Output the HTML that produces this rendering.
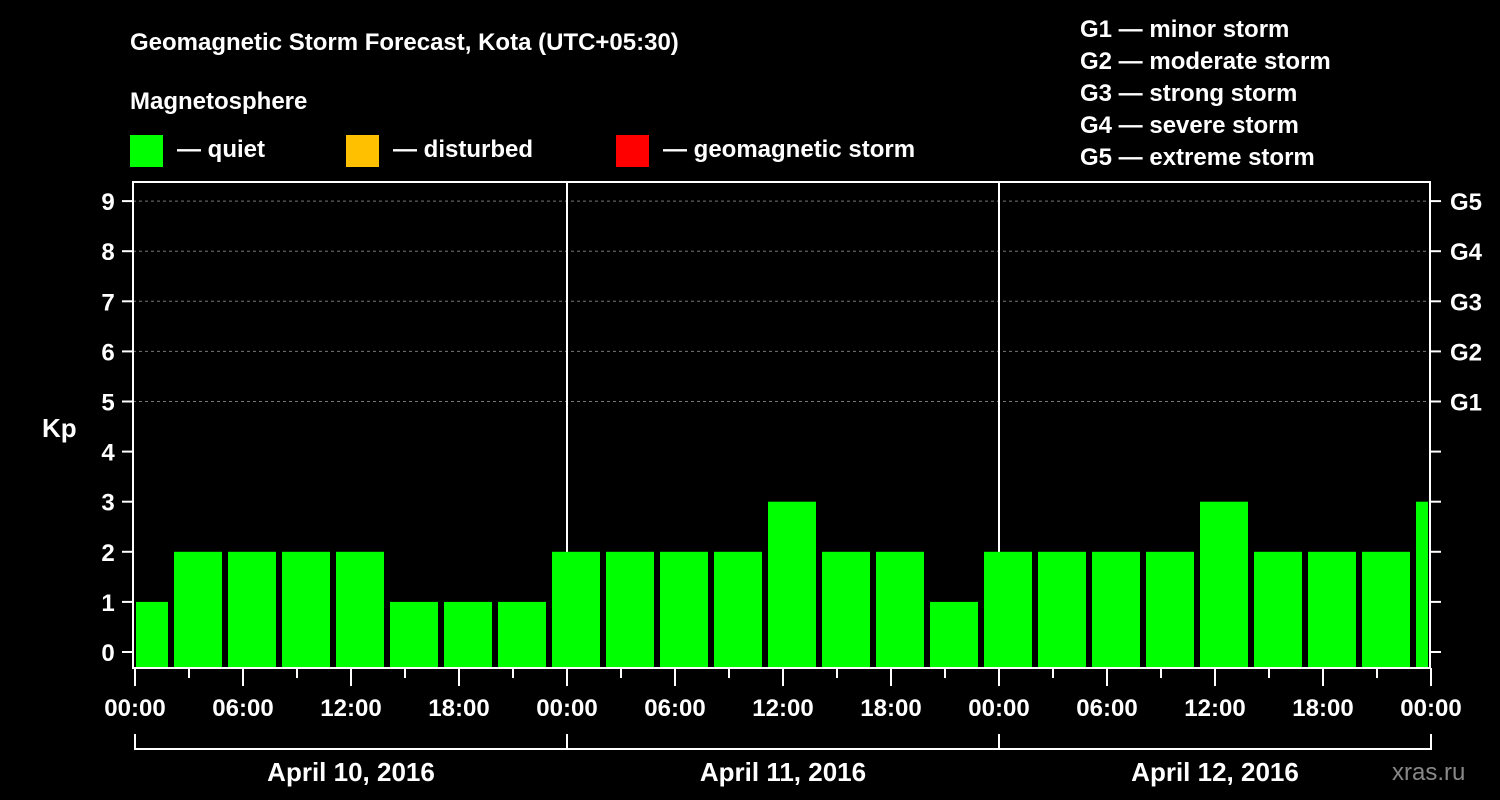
<!DOCTYPE html>
<html><head><meta charset="utf-8"><style>
body{margin:0;background:#000;}
svg{display:block;font-family:"Liberation Sans",Arial,sans-serif;font-weight:bold;}
</style></head><body>
<svg id="chart" width="1500" height="800" viewBox="0 0 1500 800">
<rect width="1500" height="800" fill="#000"/>
<text x="130" y="50" fill="#fff" font-size="24">Geomagnetic Storm Forecast, Kota (UTC+05:30)</text>
<text x="130" y="109" fill="#fff" font-size="24">Magnetosphere</text>
<g><rect x="130" y="135" width="33" height="32" fill="#00ff00"/><text x="177" y="157" fill="#fff" font-size="24">— quiet</text></g>
<g><rect x="346" y="135" width="33" height="32" fill="#ffc000"/><text x="393" y="157" fill="#fff" font-size="24">— disturbed</text></g>
<g><rect x="616" y="135" width="33" height="32" fill="#ff0000"/><text x="663" y="157" fill="#fff" font-size="24">— geomagnetic storm</text></g>
<g fill="#fff" font-size="24">
<text x="1080" y="37">G1 — minor storm</text>
<text x="1080" y="69">G2 — moderate storm</text>
<text x="1080" y="101">G3 — strong storm</text>
<text x="1080" y="133">G4 — severe storm</text>
<text x="1080" y="165">G5 — extreme storm</text>
</g>
<text x="42" y="437" fill="#fff" font-size="26">Kp</text>
<g id="grid"></g><g id="bars"></g><g id="axes"></g>
<text x="1392" y="780" fill="#888" font-size="24" font-weight="normal">xras.ru</text>
</svg>
<script>
const kpValues=[1,2,2,2,2,1,1,1,2,2,2,2,3,2,2,1,2,2,2,2,3,2,2,2,3];
const yTicks=[0,1,2,3,4,5,6,7,8,9];
const gLabels=["G1","G2","G3","G4","G5"];
const xTickLabels=["00:00","06:00","12:00","18:00","00:00","06:00","12:00","18:00","00:00","06:00","12:00","18:00","00:00"];
const dayLabels=["April 10, 2016","April 11, 2016","April 12, 2016"];
const NS="http://www.w3.org/2000/svg";
const L=133,R=1430,T=182,B=668;
const y=v=>652-v*50.1;
const x=h=>135+h*18; // hours since start
function mk(t,a,p){const e=document.createElementNS(NS,t);for(const k in a)e.setAttribute(k,a[k]);p.appendChild(e);return e;}
const grid=document.getElementById('grid'),bars=document.getElementById('bars'),axes=document.getElementById('axes');
yTicks.forEach(v=>{
  if(v>=5){const g=mk('line',{x1:L,x2:R,y1:y(v),y2:y(v),stroke:'#777','stroke-dasharray':'3,3'},grid);
  }
  const tl=mk('line',{x1:122,x2:L,y1:y(v),y2:y(v),stroke:'#fff','stroke-width':2},axes);
  
  const tr=mk('line',{x1:R,x2:1441,y1:y(v),y2:y(v),stroke:'#fff','stroke-width':2},axes);
  
  const t=mk('text',{x:108,y:y(v)+9,fill:'#fff','font-size':24,'text-anchor':'middle'},axes);t.textContent=v;
  
});
gLabels.forEach((g,i)=>{const t=mk('text',{x:1450,y:y(i+5)+9,fill:'#fff','font-size':24},axes);t.textContent=g;
  });
[1,2].forEach(d=>{const l=mk('line',{x1:x(d*24),x2:x(d*24),y1:T,y2:B,stroke:'#fff','stroke-width':2},grid);
  });
kpValues.forEach((v,i)=>{
  const s=2+3*(i-1), e=s+3;
  let x0=x(s)+3, x1=x(e)-3;
  if(x0<136)x0=136; if(x1>1428)x1=1428;
  const c=v>=5?'#ff0000':(v>=4?'#ffc000':'#00ff00');
  const r=mk('rect',{x:x0,y:y(v),width:x1-x0,height:B-y(v),fill:c},bars);
  
});
const fr=mk('rect',{x:L,y:T,width:R-L,height:B-T,fill:'none',stroke:'#fff','stroke-width':2},axes);

for(let h=0;h<=72;h+=3){const tk=mk('line',{x1:x(h),x2:x(h),y1:B,y2:h%6?678:686,stroke:'#fff','stroke-width':2},axes);
  }
xTickLabels.forEach((s,i)=>{const t=mk('text',{x:x(i*6),y:716,fill:'#fff','font-size':24,'text-anchor':'middle'},axes);t.textContent=s;
  });
const br=mk('path',{d:`M${x(0)},734V749H${x(72)}V734M${x(24)},734V749M${x(48)},734V749`,stroke:'#fff','stroke-width':2,fill:'none'},axes);

dayLabels.forEach((s,i)=>{const t=mk('text',{x:x(i*24+12),y:781,fill:'#fff','font-size':26,'text-anchor':'middle'},axes);t.textContent=s;
  });
</script>
</body></html>
